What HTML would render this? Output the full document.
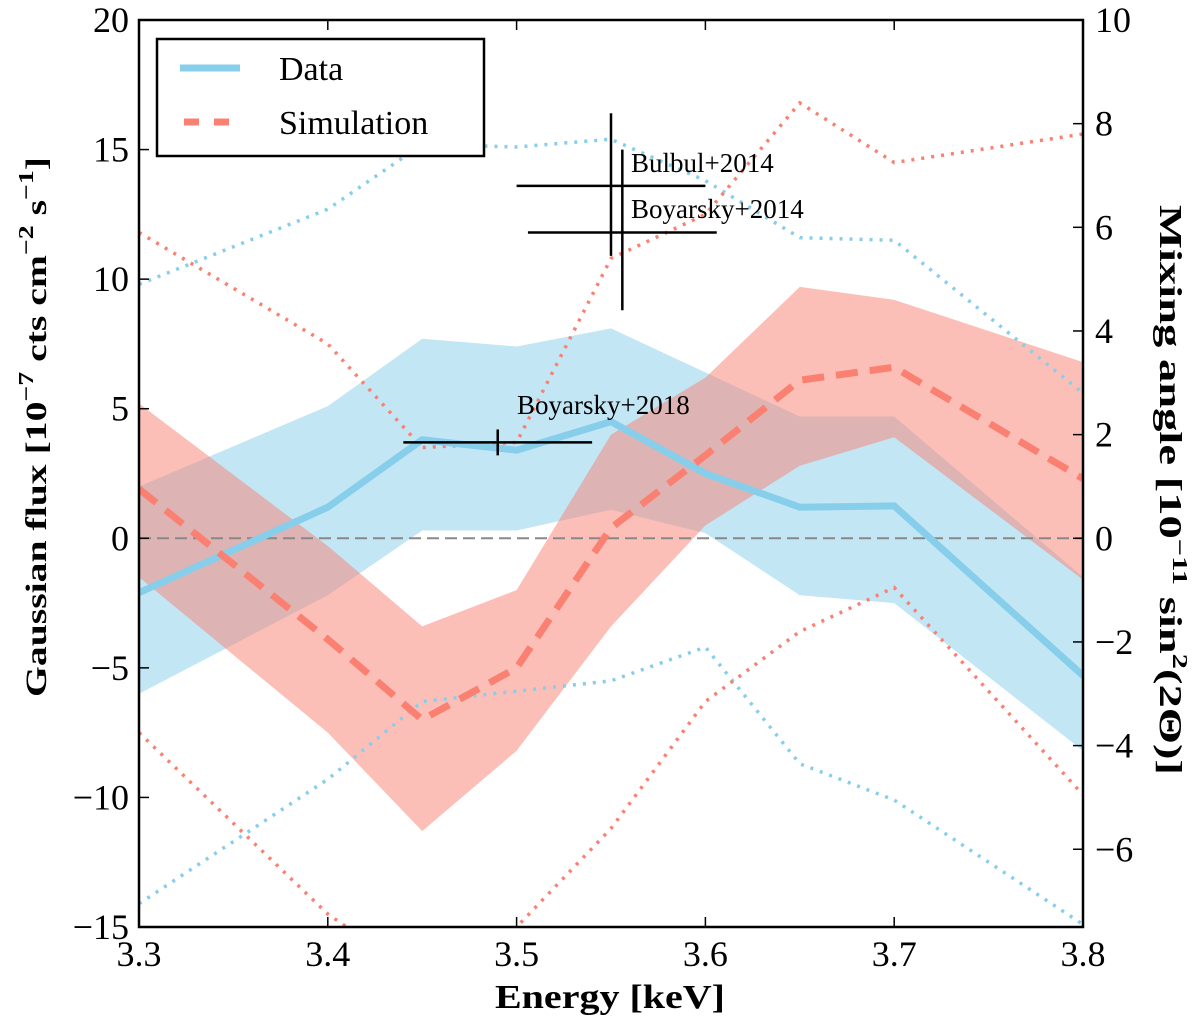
<!DOCTYPE html>
<html><head><meta charset="utf-8"><style>
body{margin:0;background:#fff;}
svg text{font-family:"Liberation Serif",serif;fill:#000;}
</style></head><body>
<svg id="chart" width="1200" height="1029" xmlns="http://www.w3.org/2000/svg" style="position:absolute;left:0;top:0"></svg>
<script>
const energies=[3.3,3.4,3.45,3.5,3.55,3.6,3.65,3.7,3.8];
const dataLine=[-2.1,1.2,3.8,3.4,4.5,2.5,1.2,1.25,-5.3];
const dataBandHi=[2,5.1,7.7,7.4,8.1,6.4,4.7,4.7,-1.5];
const dataBandLo=[-6,-2.2,0.3,0.3,1.1,0.2,-2.2,-2.5,-8.2];
const dataDotHi=[9.8,12.7,15.2,15.1,15.4,13.8,11.6,11.5,5.6];
const dataDotLo=[-14.1,-9.3,-6.3,-5.9,-5.5,-4.2,-8.7,-10.1,-14.9];
const simLine=[1.9,-3.9,-7,-5,0.4,3.2,6.1,6.6,2.3];
const simBandHi=[5.2,-0.3,-3.4,-2.0,4,6.2,9.7,9.2,6.8];
const simBandLo=[-1.5,-7.5,-11.3,-8.2,-3.4,0.5,2.8,3.9,-1.6];
const simDotHi=[11.8,7.5,3.5,3.7,10.8,12.5,16.8,14.5,15.6];
const simDotLo=[-7.5,-14.5,-17,-15,-11.2,-6.3,-3.6,-1.9,-9.9];
const xTicks=[3.3,3.4,3.5,3.6,3.7,3.8];
const yTicks=[-15,-10,-5,0,5,10,15,20];
const y2Ticks=[-6,-4,-2,0,2,4,6,8,10];
const refNames=["Bulbul+2014","Boyarsky+2014","Boyarsky+2018"];
const refX=[3.55,3.556,3.49];
const refXErr=[0.05,0.05,0.05];
const refY=[13.6,11.8,3.7];
const refYHi=[16.4,15.0,4.2];
const refYLo=[10.9,8.8,3.2];

const L=139,R=1083,T=20,B=927;
const X=v=>L+(v-3.3)/0.5*(R-L);
const Y=v=>B-(v+15)/35*(B-T);
const Y2=v=>B-(v+7.5)/17.5*(B-T);
const svg=document.getElementById('chart');
const NS='http://www.w3.org/2000/svg';
function mk(tag,attrs,parent){const e=document.createElementNS(NS,tag);for(const k in attrs)e.setAttribute(k,attrs[k]);(parent||svg).appendChild(e);return e;}
const defs=mk('defs',{});const cp=mk('clipPath',{id:'clip'},defs);mk('rect',{x:L,y:T,width:R-L,height:B-T},cp);
const g=mk('g',{'clip-path':'url(#clip)'});


function pts(arr){return arr.map((v,i)=>X(energies[i])+','+Y(v)).join(' ');}
function band(hi,lo,col,name){const p=hi.map((v,i)=>X(energies[i])+','+Y(v)).concat(lo.map((v,i)=>[X(energies[i]),Y(v)]).reverse().map(a=>a.join(','))).join(' ');
 const e=mk('polygon',{points:p,fill:col,'fill-opacity':0.5,stroke:'none'},g);
 
 }
function line(arr,col,w,dash,name){const e=mk('polyline',{points:pts(arr),fill:'none',stroke:col,'stroke-width':w,'stroke-dasharray':dash},g);
 
 }
band(dataBandHi,dataBandLo,'#87ceeb','data-band');
band(simBandHi,simBandLo,'#fa8072','simulation-band');
const z=mk('line',{x1:L,x2:R,y1:Y(0),y2:Y(0),stroke:'#888','stroke-width':2,'stroke-dasharray':'12,6'},g);


line(dataDotHi,'#87ceeb',3.5,'3,7','data-upper-dotted');
line(dataDotLo,'#87ceeb',3.5,'3,7','data-lower-dotted');
line(simDotHi,'#fa8072',3.5,'3,7','simulation-upper-dotted');
line(simDotLo,'#fa8072',3.5,'3,7','simulation-lower-dotted');
line(dataLine,'#87ceeb',7,'none','data-line');
line(simLine,'#fa8072',7,'22,12','simulation-line');
refNames.forEach((n,i)=>{
 const h=mk('line',{x1:X(refX[i]-refXErr[i]),x2:X(refX[i]+refXErr[i]),y1:Y(refY[i]),y2:Y(refY[i]),stroke:'#000','stroke-width':2.5});
 
 
 const v=mk('line',{x1:X(refX[i]),x2:X(refX[i]),y1:Y(refYHi[i]),y2:Y(refYLo[i]),stroke:'#000','stroke-width':2.5});
 
 
});
const lp=[[631,172],[631,218],[517,414]];
refNames.forEach((n,i)=>{const t=mk('text',{x:lp[i][0],y:lp[i][1],'font-size':27});t.textContent=n;
 
 });
const fr=mk('rect',{x:L,y:T,width:R-L,height:B-T,fill:'none',stroke:'#000','stroke-width':2.5});


xTicks.forEach(v=>{mk('line',{x1:X(v),x2:X(v),y1:B,y2:B-10,stroke:'#000','stroke-width':1.5});mk('line',{x1:X(v),x2:X(v),y1:T,y2:T+10,stroke:'#000','stroke-width':1.5});
 const t=mk('text',{x:X(v),y:966,'font-size':36,'text-anchor':'middle'});t.textContent=v.toFixed(1);
 
 });
yTicks.forEach(v=>{mk('line',{x1:L,x2:L+10,y1:Y(v),y2:Y(v),stroke:'#000','stroke-width':1.5});
 const t=mk('text',{x:L-10,y:Y(v)+12,'font-size':36,'text-anchor':'end'});t.textContent=v<0?'\u2212'+(-v):v;
 
 });
y2Ticks.forEach(v=>{mk('line',{x1:R,x2:R-10,y1:Y2(v),y2:Y2(v),stroke:'#000','stroke-width':1.5});
 const t=mk('text',{x:R+12,y:Y2(v)+12,'font-size':36});t.textContent=v<0?'\u2212'+(-v):v;
 
 });
</script>
<svg style="position:absolute;left:0;top:0" width="1200" height="1029" xmlns="http://www.w3.org/2000/svg">
<text x="610" y="1008" font-size="34" font-weight="bold" text-anchor="middle" textLength="230" lengthAdjust="spacingAndGlyphs" font-family="Liberation Serif,serif">Energy [keV]</text>
<text transform="translate(46,427) rotate(-90)" font-size="30" font-weight="bold" text-anchor="middle" textLength="540" lengthAdjust="spacingAndGlyphs" font-family="Liberation Serif,serif">Gaussian flux [10<tspan dy="-13" font-size="21">−7</tspan><tspan dy="13"> cts cm</tspan><tspan dy="-13" font-size="21">−2</tspan><tspan dy="13"> s</tspan><tspan dy="-13" font-size="21">−1</tspan><tspan dy="13">]</tspan></text>
<text transform="translate(1160,490) rotate(90)" font-size="32" font-weight="bold" text-anchor="middle" textLength="570" lengthAdjust="spacingAndGlyphs" font-family="Liberation Serif,serif">Mixing angle [10<tspan dy="-13" font-size="21">−11</tspan><tspan dy="13"> sin</tspan><tspan dy="-13" font-size="21">2</tspan><tspan dy="13">(2Θ)]</tspan></text>
<g>
<rect x="157" y="39" width="327" height="117" fill="#fff" stroke="#000" stroke-width="2.5"/>
<line x1="180" x2="240" y1="68" y2="68" stroke="#87ceeb" stroke-width="7"/>
<text x="279" y="80" font-size="34" font-family="Liberation Serif,serif">Data</text>
<line x1="184" x2="229" y1="122" y2="122" stroke="#fa8072" stroke-width="7" stroke-dasharray="15,15"/>
<text x="279" y="134" font-size="34" font-family="Liberation Serif,serif">Simulation</text>
</g>
</svg>
</body></html>
